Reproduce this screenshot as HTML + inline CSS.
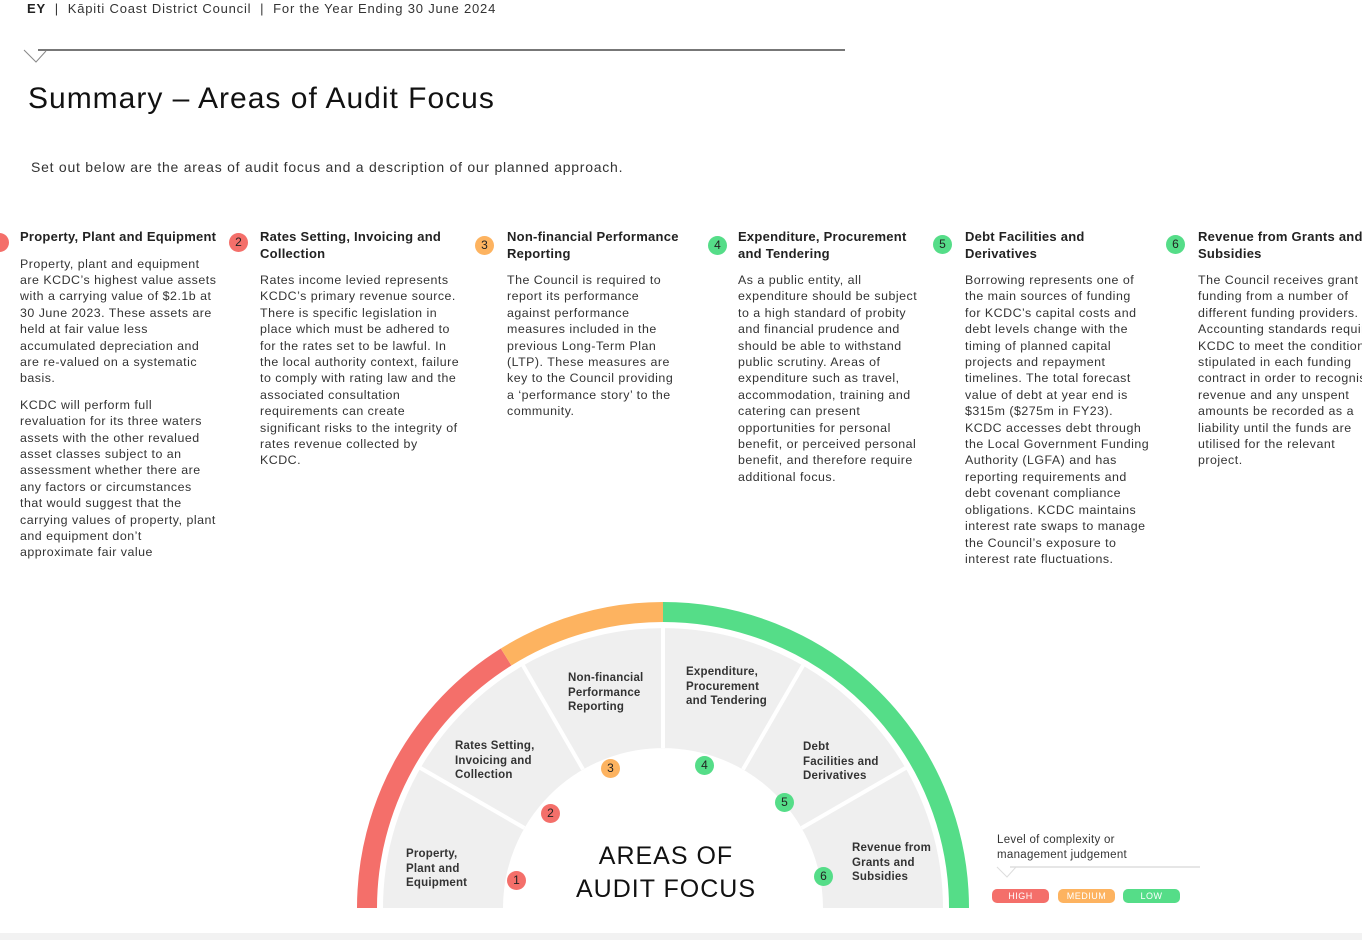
<!DOCTYPE html>
<html><head><meta charset="utf-8"><style>
body{margin:0;width:1362px;height:940px;background:#fff;position:relative;overflow:hidden;font-family:"Liberation Sans",sans-serif;color:#222}
.a{position:absolute}
.col{position:absolute;top:229px;font-size:12.4px;line-height:16.4px;color:#333;letter-spacing:0.5px}
.col h3{margin:0 0 10px 0;font-size:13px;line-height:16.5px;font-weight:bold;color:#222;letter-spacing:0.25px}
.col p{margin:0 0 10px 0}
.b{position:absolute;width:19px;height:19px;border-radius:50%;font-size:12px;line-height:19px;text-align:center;color:#222;letter-spacing:0}
.r{background:#f46f6a}.o{background:#fdb360}.g{background:#55dd88}
.seg{position:absolute;font-size:11.5px;line-height:14.5px;font-weight:bold;color:#333;letter-spacing:0.2px}
.pill{position:absolute;top:889px;height:14px;width:57px;border-radius:5px;color:#fff;font-size:9px;line-height:14px;text-align:center;letter-spacing:.5px}
</style></head><body>
<div class="a" style="left:27px;top:1px;font-size:13px;color:#333;letter-spacing:0.8px"><b style="color:#222">EY</b>&nbsp; | &nbsp;Kāpiti Coast District Council&nbsp; | &nbsp;For the Year Ending 30 June 2024</div>
<svg class="a" style="left:0;top:0" width="1362" height="940">
<line x1="38" y1="50" x2="845" y2="50" stroke="#777" stroke-width="2"/>
<polyline points="24,50 36,62 46,51" fill="none" stroke="#888" stroke-width="1"/>
<rect x="0" y="933" width="1362" height="7" fill="#f2f2f2"/>
<path d="M 443 908 A 220 220 0 0 1 883 908" fill="none" stroke="#efefef" stroke-width="120"/>
<g stroke="#fff" stroke-width="4">
<line x1="524.4" y1="828" x2="417" y2="766"/>
<line x1="583" y1="769.4" x2="521" y2="662"/>
<line x1="663" y1="748" x2="663" y2="624"/>
<line x1="743" y1="769.4" x2="805" y2="662"/>
<line x1="801.6" y1="828" x2="909" y2="766"/>
</g>
<path d="M 367 908 A 296 296 0 0 1 506.1 657" fill="none" stroke="#f46f6a" stroke-width="20"/>
<path d="M 506.1 657 A 296 296 0 0 1 663 612" fill="none" stroke="#fdb360" stroke-width="20"/>
<path d="M 663 612 A 296 296 0 0 1 959 908" fill="none" stroke="#55dd88" stroke-width="20"/>
<line x1="1010" y1="867" x2="1200" y2="867" stroke="#ddd" stroke-width="1.5"/>
<polyline points="997,867 1007,877 1016,867" fill="none" stroke="#ddd" stroke-width="1"/>
</svg>
<div class="a" style="left:28px;top:82px;font-size:30px;color:#111;letter-spacing:1px">Summary – Areas of Audit Focus</div>
<div class="a" style="left:31px;top:159px;font-size:14px;color:#333;letter-spacing:0.75px">Set out below are the areas of audit focus and a description of our planned approach.</div>

<div class="b r" style="left:-10px;top:233px"></div>
<div class="col" style="left:20px;width:198px"><h3 style="width:210px">Property, Plant and Equipment</h3><p>Property, plant and equipment are KCDC’s highest value assets with a carrying value of $2.1b at 30 June 2023. These assets are held at fair value less accumulated depreciation and are re-valued on a systematic basis.</p><p>KCDC will perform full revaluation for its three waters assets with the other revalued asset classes subject to an assessment whether there are any factors or circumstances that would suggest that the carrying values of property, plant and equipment don’t approximate fair value</p></div>
<div class="b r" style="left:229px;top:233px">2</div>
<div class="col" style="left:260px;width:200px"><h3 style="width:205px">Rates Setting, Invoicing and Collection</h3><p>Rates income levied represents KCDC’s primary revenue source. There is specific legislation in place which must be adhered to for the rates set to be lawful. In the local authority context, failure to comply with rating law and the associated consultation requirements can create significant risks to the integrity of rates revenue collected by KCDC.</p></div>
<div class="b o" style="left:475px;top:236px">3</div>
<div class="col" style="left:507px;width:176px"><h3 style="width:180px">Non-financial Performance Reporting</h3><p>The Council is required to report its performance against performance measures included in the previous Long-Term Plan (LTP). These measures are key to the Council providing a ‘performance story’ to the community.</p></div>
<div class="b g" style="left:708px;top:236px">4</div>
<div class="col" style="left:738px;width:180px"><h3 style="width:185px">Expenditure, Procurement and Tendering</h3><p>As a public entity, all expenditure should be subject to a high standard of probity and financial prudence and should be able to withstand public scrutiny. Areas of expenditure such as travel, accommodation, training and catering can present opportunities for personal benefit, or perceived personal benefit, and therefore require additional focus.</p></div>
<div class="b g" style="left:933px;top:235px">5</div>
<div class="col" style="left:965px;width:185px"><h3>Debt Facilities and Derivatives</h3><p>Borrowing represents one of the main sources of funding for KCDC’s capital costs and debt levels change with the timing of planned capital projects and repayment timelines. The total forecast value of debt at year end is $315m ($275m in FY23). KCDC accesses debt through the Local Government Funding Authority (LGFA) and has reporting requirements and debt covenant compliance obligations. KCDC maintains interest rate swaps to manage the Council’s exposure to interest rate fluctuations.</p></div>
<div class="b g" style="left:1166px;top:235px">6</div>
<div class="col" style="left:1198px;width:185px"><h3>Revenue from Grants and Subsidies</h3><p>The Council receives grant funding from a number of different funding providers. Accounting standards requires KCDC to meet the conditions stipulated in each funding contract in order to recognise revenue and any unspent amounts be recorded as a liability until the funds are utilised for the relevant project.</p></div>

<div class="seg" style="left:406px;top:847px">Property,<br>Plant and<br>Equipment</div>
<div class="seg" style="left:455px;top:739px">Rates Setting,<br>Invoicing and<br>Collection</div>
<div class="seg" style="left:568px;top:671px">Non-financial<br>Performance<br>Reporting</div>
<div class="seg" style="left:686px;top:665px">Expenditure,<br>Procurement<br>and Tendering</div>
<div class="seg" style="left:803px;top:740px">Debt<br>Facilities and<br>Derivatives</div>
<div class="seg" style="left:852px;top:841px">Revenue from<br>Grants and<br>Subsidies</div>
<div class="b r" style="left:507px;top:871px">1</div>
<div class="b r" style="left:541px;top:804px">2</div>
<div class="b o" style="left:601px;top:759px">3</div>
<div class="b g" style="left:695px;top:756px">4</div>
<div class="b g" style="left:775px;top:793px">5</div>
<div class="b g" style="left:814px;top:867px">6</div>
<div class="a" style="left:560px;top:840px;width:212px;text-align:center;font-size:25px;line-height:33px;letter-spacing:1px;color:#111">AREAS OF<br>AUDIT FOCUS</div>

<div class="a" style="left:997px;top:833px;font-size:11.5px;line-height:14.5px;color:#333;letter-spacing:0.3px">Level of complexity or<br>management judgement</div>
<div class="pill r" style="left:992px">HIGH</div>
<div class="pill o" style="left:1058px">MEDIUM</div>
<div class="pill g" style="left:1123px">LOW</div>
</body></html>
